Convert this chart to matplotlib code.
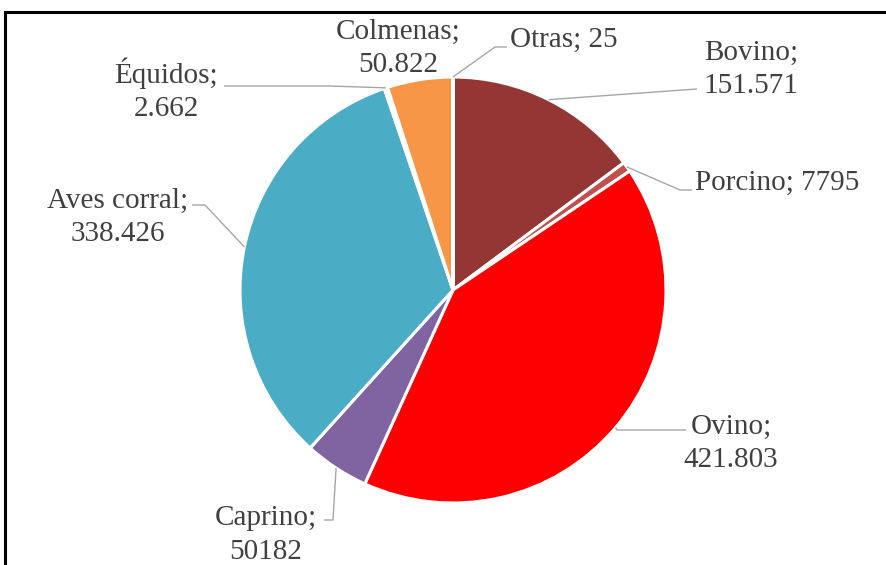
import numpy as np
import matplotlib
matplotlib.use("Agg")
import matplotlib.pyplot as plt
from matplotlib.lines import Line2D

categories = ["Bovino", "Porcino", "Ovino", "Caprino", "Aves corral", "Équidos", "Colmenas", "Otras"]
values = [151571, 7795, 421803, 50182, 338426, 2662, 50822, 25]
value_labels = ["151.571", "7795", "421.803", "50182", "338.426", "2.662", "50.822", "25"]
colors = ["#943634", "#C0504D", "#FF0000", "#8064A2", "#4BACC6", "#F2F2F2", "#F79646", "#4F81BD"]

W, H = 886, 565
fig = plt.figure(figsize=(W / 100, H / 100), dpi=100)
ax = fig.add_axes([0, 0, 1, 1])

cx, cy, R = 453, 290, 213  # pixel centre & radius

def px(x, y):
    return ((x - cx) / R, (cy - y) / R)

wedges, _ = ax.pie(values, colors=colors, startangle=90, counterclock=False,
                   radius=1.0, center=(0, 0),
                   wedgeprops=dict(edgecolor="white", linewidth=2.2))

ax.set_xlim(-cx / R, (W - cx) / R)
ax.set_ylim(-(H - cy) / R, cy / R)
ax.set_aspect("auto")
ax.axis("off")

layout = {
    "Bovino":      dict(t=(751, 69), ha="center", one=False, path=[(697, 89)]),
    "Porcino":     dict(t=(695, 183), ha="left", one=True, path=[(680, 190), (692, 190)]),
    "Ovino":       dict(t=(731, 443), ha="center", one=False, path=[(617, 430), (686, 430)]),
    "Caprino":     dict(t=(266, 535), ha="center", one=False, path=[(333, 520), (324, 520)]),
    "Aves corral": dict(t=(118, 217), ha="center", one=False, path=[(205, 205), (192, 205)]),
    "Équidos":     dict(t=(166, 90), ha="center", one=False, path=[(330, 86), (224, 86)]),
    "Colmenas":    dict(t=(398, 48), ha="center", one=False, path=None),
    "Otras":       dict(t=(510, 40), ha="left", one=True, path=[(495, 47), (507, 47)]),
}

font = ["Liberation Serif", "DejaVu Serif"]
tcolor = "#404040"
lcolor = "#A6A6A6"

for w, cat, lab in zip(wedges, categories, value_labels):
    L = layout[cat]
    txt = f"{cat}; {lab}" if L["one"] else f"{cat};\n{lab}"
    tx, ty = px(*L["t"])
    ax.text(tx, ty, txt, ha=L["ha"], va="center", fontsize=21, family=font,
            color=tcolor, linespacing=1.36, zorder=5)
    if L["path"]:
        ang = np.deg2rad((w.theta1 + w.theta2) / 2)
        sx, sy = np.cos(ang), np.sin(ang)
        xs = [sx] + [px(*p)[0] for p in L["path"]]
        ys = [sy] + [px(*p)[1] for p in L["path"]]
        ax.plot(xs, ys, color=lcolor, lw=1.0, zorder=1, solid_capstyle="butt")

fig.add_artist(Line2D([5 / W, 1], [1 - 12 / H, 1 - 12 / H], color="black", lw=2.2,
                      transform=fig.transFigure))
fig.add_artist(Line2D([5 / W, 5 / W], [0, 1 - 12 / H], color="black", lw=2.2,
                      transform=fig.transFigure))

fig.savefig("out.png", dpi=100, facecolor="white")
